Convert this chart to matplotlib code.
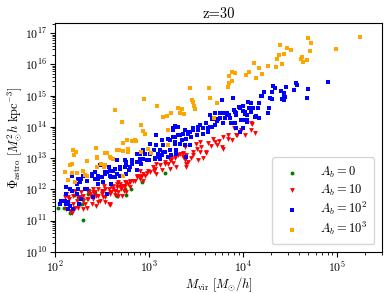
import numpy as np
import matplotlib
matplotlib.use("Agg")
import matplotlib.pyplot as plt

plt.rcParams['font.family'] = 'serif'
plt.rcParams['font.serif'] = ['cmr10']
plt.rcParams['mathtext.fontset'] = 'cm'
plt.rcParams['axes.formatter.use_mathtext'] = True

# values, as log10(M_vir) and log10(Phi_astro)
logM_0 = [2.035, 2.10, 2.16, 2.29, 2.294, 2.35, 2.43, 2.24, 2.20, 2.365, 2.656, 2.76,
          2.805, 2.745, 2.925, 3.17, 2.30, 2.14, 2.50]
logP_0 = [11.42, 11.42, 11.26, 11.53, 11.02, 11.86, 11.90, 11.77, 11.82, 11.98, 11.78, 11.82,
          12.00, 12.02, 12.25, 12.52, 11.70, 11.60, 11.95]

logM_10 = [2.12, 2.11, 2.12, 2.18, 2.195, 2.23, 2.27, 2.30, 2.34, 2.37, 2.43, 2.46, 2.50, 2.53,
           2.585, 2.57, 2.48, 2.60, 2.66, 2.71, 2.745, 2.78, 2.83, 2.87, 2.90, 2.96, 3.01, 3.06,
           3.12, 3.17, 3.24, 3.31, 3.36, 3.40, 2.94, 2.80, 2.73, 2.67, 2.64, 2.34, 2.30, 2.25,
           2.44, 2.51, 2.41, 2.35,
           3.36, 3.28, 3.38, 3.40, 3.42, 3.22, 3.17, 3.08, 3.04, 2.99, 2.94, 2.90, 2.92, 2.87,
           2.85, 2.80, 2.76, 2.73, 2.69, 2.66, 2.62, 2.60, 2.67, 2.64, 3.22, 3.29,
           3.79, 3.84, 3.84, 3.88, 3.93, 3.98, 3.70, 3.72, 3.78, 3.68, 3.63, 3.61, 3.56, 3.54,
           3.51, 3.47, 3.38, 3.33, 3.36, 3.28, 3.24, 3.58,
           4.09, 4.10, 4.09, 4.13, 4.02, 3.94,
           3.52, 3.47, 3.38, 3.40, 3.54, 3.79, 3.985, 3.91, 3.61, 3.08,
           2.12, 2.14, 2.195, 2.25, 2.30, 2.35, 2.41, 2.44, 2.50, 2.53, 2.585, 2.64, 2.69, 2.745,
           2.80, 2.67, 2.62, 2.57, 2.51, 2.46, 2.41, 2.35, 2.585, 2.53, 2.46, 2.39, 2.32, 2.21,
           2.16, 2.106, 2.71, 2.76, 2.28, 2.21, 2.585,
           2.90, 2.98, 3.05, 3.14, 3.20, 3.26, 3.45, 3.50, 3.66, 3.75, 2.70, 2.52, 2.38, 2.15]
logP_10 = [11.86, 11.53, 11.37, 11.26, 11.53, 11.64, 11.75, 11.80, 11.69, 11.86, 11.91, 11.80,
           11.96, 12.02, 11.91, 11.53, 11.64, 12.12, 12.18, 12.12, 12.23, 12.18, 12.28, 12.39,
           12.44, 12.44, 12.55, 12.66, 12.77, 12.82, 12.93, 13.09, 13.14, 12.82, 12.28, 12.07,
           11.96, 11.80, 11.96, 11.42, 11.37, 11.42, 11.48, 11.75, 12.02, 11.96,
           13.17, 13.01, 12.98, 13.09, 12.87, 12.93, 12.87, 12.82, 12.71, 12.60, 12.50, 12.60,
           12.39, 12.44, 12.28, 12.28, 12.23, 12.12, 12.18, 12.07, 12.02, 11.91, 11.91, 11.83,
           12.66, 12.71,
           13.68, 13.73, 13.62, 13.57, 13.75, 13.89, 13.51, 13.41, 13.35, 13.62, 13.49, 13.16,
           13.35, 13.19, 13.30, 13.09, 13.35, 13.14, 13.03, 13.03, 12.98, 13.00,
           14.13, 14.08, 13.89, 13.80, 13.75, 13.75,
           12.93, 13.19, 12.93, 12.71, 13.51, 13.30, 13.89, 13.95, 13.19, 12.50,
           11.86, 11.75, 11.80, 11.75, 11.64, 11.69, 11.69, 11.80, 11.86, 11.75, 11.86, 11.96,
           12.07, 12.12, 12.23, 12.23, 12.12, 12.02, 11.96, 12.02, 11.91, 11.91, 11.53, 11.59,
           11.59, 11.53, 11.53, 11.42, 11.32, 11.75, 11.80, 11.91, 11.91, 11.96, 11.51,
           12.35, 12.52, 12.58, 12.62, 12.80, 12.85, 13.00, 13.45, 13.40, 13.55, 12.00, 12.10,
           11.78, 11.70]

logM_100 = [3.78, 3.90, 4.085, 4.17, 4.165, 4.20, 4.23, 4.29, 4.315, 4.315, 4.34, 4.41, 4.44,
            4.44, 4.465, 4.54, 4.57, 4.58, 4.69, 4.68, 4.91, 4.28, 4.27, 4.11, 4.09, 4.13, 4.17,
            4.04, 3.975, 4.02, 4.00, 3.91, 3.93, 3.855, 3.79, 3.81, 3.74, 3.65, 3.67, 3.915, 4.04,
            4.32, 4.44, 4.19, 4.42, 4.09, 4.00, 3.96, 4.07, 3.915, 3.93, 4.14, 3.93, 4.00, 3.97,
            4.45,
            4.06, 4.00, 4.02, 3.83, 3.86, 3.755, 3.73, 3.79, 3.87, 3.70, 3.67, 3.63, 3.58, 3.54,
            3.52, 3.47, 3.44, 3.38, 3.31, 3.33, 3.26, 3.28, 3.22, 3.28, 3.35, 3.40, 3.45, 3.51,
            3.58, 3.63, 3.38, 3.44, 3.29, 3.24,
            4.04, 3.985, 3.83, 3.755, 3.70, 3.68, 3.61, 3.65, 3.52, 3.47, 3.42, 3.36, 3.31, 3.29,
            3.26, 3.205, 3.15, 3.08, 3.05, 2.94, 2.87, 2.90, 2.82, 2.745, 2.76, 2.69, 2.64, 2.585,
            2.53, 2.50, 2.62, 3.01, 3.10, 3.15, 3.22,
            3.42, 3.28, 3.33, 3.205, 3.12, 3.17, 3.10, 2.96, 3.00, 3.06, 3.12, 2.94, 2.92, 2.87,
            2.82, 2.76, 2.745, 2.79, 2.87, 2.69, 2.62, 2.66, 2.60, 2.76, 2.92,
            2.57, 2.585, 2.64, 2.69, 2.46, 2.43, 2.39, 2.34, 2.28, 2.23, 2.16, 2.12, 2.18, 2.25,
            2.23, 2.12, 2.11, 2.14, 2.16, 2.195, 2.32, 2.46, 2.51, 2.43, 2.12, 2.14, 2.27, 2.30,
            2.39, 2.46, 2.53, 2.80, 2.90, 2.975, 3.06, 3.135, 3.205, 3.29, 3.40, 2.60, 2.55, 2.34,
            2.41, 2.28, 2.26, 2.05, 2.06, 2.18, 2.24, 2.48, 2.55, 2.66, 2.90,
            3.01, 3.08, 3.135, 3.26, 3.28]
logP_100 = [14.86, 14.93, 14.78, 14.75, 14.62, 14.98, 15.12, 14.94, 15.12, 14.88, 15.25, 15.15,
            14.98, 14.86, 15.28, 15.17, 15.39, 15.34, 15.21, 14.93, 15.44, 14.61, 14.45, 14.62,
            14.48, 14.32, 14.27, 14.37, 14.62, 14.48, 14.21, 14.53, 14.37, 14.37, 14.43, 14.29,
            14.24, 14.37, 14.24, 14.11, 14.16,
            15.31, 15.07, 15.00, 14.88, 14.77, 14.67, 14.64, 14.61, 14.48, 14.43, 14.34, 13.95,
            13.95, 13.84, 14.96,
            14.80, 14.50, 14.40, 14.37, 14.27, 14.30, 14.18, 14.11, 14.14, 14.05, 14.00, 13.95,
            13.95, 14.05, 13.89, 13.95, 13.84, 13.89, 14.00, 13.73, 13.89, 13.68, 13.57, 13.46,
            13.57, 13.62, 13.68, 13.73, 13.78, 13.84, 13.41, 13.41, 13.25, 13.09,
            14.21, 14.23, 14.43, 14.43, 14.43, 14.24, 14.11, 14.00, 14.00, 13.89, 13.84, 13.78,
            13.73, 14.00, 13.68, 13.62, 13.41, 13.41, 13.25, 13.25, 13.14, 12.98, 12.93, 12.93,
            12.77, 12.71, 12.66, 12.60, 12.55, 12.39, 12.39, 13.14, 13.03, 13.19, 13.25,
            13.78, 13.51, 13.46, 13.41, 13.25, 13.19, 13.14, 13.14, 12.93, 13.01, 12.98, 12.98,
            12.82, 12.87, 12.82, 12.87, 12.71, 12.63, 12.63, 12.66, 12.60, 12.50, 12.39, 12.50,
            13.19,
            12.71, 12.44, 12.39, 12.44, 12.44, 12.34, 12.50, 12.28, 12.34, 12.18, 12.02, 12.07,
            11.96, 12.02, 11.86, 11.86, 11.64, 11.59, 11.48, 11.37, 12.02, 12.18, 12.23, 12.55,
            11.53, 11.37, 12.23, 12.44, 12.44, 12.34, 12.50, 12.71, 12.87, 12.93, 12.98, 13.09,
            13.03, 13.14, 13.03, 12.18, 11.86, 12.02, 11.75, 11.69, 11.53, 11.53, 11.64, 12.44,
            12.34, 12.77, 12.55, 12.93, 13.12,
            13.46, 13.73, 13.57, 13.95, 14.02]

logM_1000 = [2.642, 2.71, 2.433, 2.195, 2.223, 2.202, 2.532, 2.55, 2.663, 2.684, 2.727, 2.77,
             2.816, 2.85, 2.727, 2.78, 2.78, 2.593, 2.62, 2.443, 2.344, 2.177, 2.16,
             2.177, 2.23, 2.14, 2.21, 2.30, 2.337, 2.45, 2.53, 2.727, 2.106, 2.32, 2.45, 2.49,
             2.52, 2.59,
             3.44, 2.95, 3.09, 3.24, 3.31, 3.35, 3.33, 3.375, 3.46, 3.47, 3.48, 3.49, 3.645,
             3.65, 3.73, 3.85, 3.85, 3.84, 3.15, 3.19, 2.92, 2.94, 2.96, 3.20, 3.20, 2.92, 2.99,
             3.69, 3.02, 2.86,
             3.88, 3.89, 3.92, 4.03, 4.07, 4.12, 4.145, 4.17, 4.205, 4.27, 4.35, 4.36, 4.38,
             4.42, 4.44, 4.40, 4.47, 4.51, 4.62, 4.635, 4.64, 4.68, 4.72, 4.69, 4.73, 4.99, 5.25]
logP_1000 = [14.53, 14.17, 13.33, 13.25, 13.20, 13.09, 13.16, 13.16, 13.25, 13.27, 13.24, 13.57,
             13.55, 13.57, 13.48, 13.30, 13.19, 13.01, 12.98, 13.00, 12.92, 12.82, 12.79,
             12.53, 12.53, 12.31, 12.23, 12.60, 12.44, 12.71, 12.77, 12.44, 12.57, 12.47, 13.05,
             12.82, 12.73, 13.03,
             15.23, 14.88, 14.67, 14.46, 14.61, 14.56, 14.43, 14.40, 14.86, 14.80, 14.66, 14.56,
             15.24, 14.91, 14.75, 15.64, 15.41, 15.28, 14.32, 14.35, 14.05, 13.86, 13.76, 13.91,
             13.41, 13.19, 13.30, 14.27, 13.17, 13.55,
             15.77, 15.47, 15.71, 15.65, 15.77, 16.06, 15.57, 15.87, 15.69, 15.96, 15.91, 16.16,
             16.30, 16.00, 16.33, 16.62, 16.52, 16.46, 16.17, 16.25, 16.09, 16.14, 16.43, 16.84,
             16.70, 16.50, 16.87]

series = [
    (logM_0, logP_0, 'green', 'o', 8, r'$A_b = 0$'),
    (logM_10, logP_10, 'red', 'v', 12, r'$A_b = 10$'),
    (logM_100, logP_100, 'blue', 's', 11, r'$A_b = 10^2$'),
    (logM_1000, logP_1000, 'orange', 's', 6, r'$A_b = 10^3$'),
]

fig, ax = plt.subplots(figsize=(3.9, 2.93), dpi=100)
fig.subplots_adjust(left=0.141, right=0.979, top=0.921, bottom=0.140)

for lm, lp, c, m, s, lab in series:
    ax.scatter(10 ** np.array(lm), 10 ** np.array(lp), c=c, marker=m, s=s,
               linewidths=0, label=lab)

ax.set_xscale('log')
ax.set_yscale('log')
ax.set_xlim(1e2, 10 ** 5.48)
ax.set_ylim(1e10, 10 ** 17.32)
ax.tick_params(labelsize=8.5, pad=2)
ax.set_xlabel(r'$M_{\rm vir}\ [M_{\odot}/h]$', fontsize=9, labelpad=0)
ax.set_ylabel(r'$\Phi_{\rm astro}\ [M_{\odot}^2 h\ {\rm kpc}^{-3}]$', fontsize=9, labelpad=1)
ax.set_title('z=30', fontsize=10.5, pad=4)
ax.legend(loc='lower right', fontsize=9, labelspacing=0.2, borderpad=0.6,
          handletextpad=1.2, borderaxespad=0.6)

plt.savefig('out.png', dpi=100)
